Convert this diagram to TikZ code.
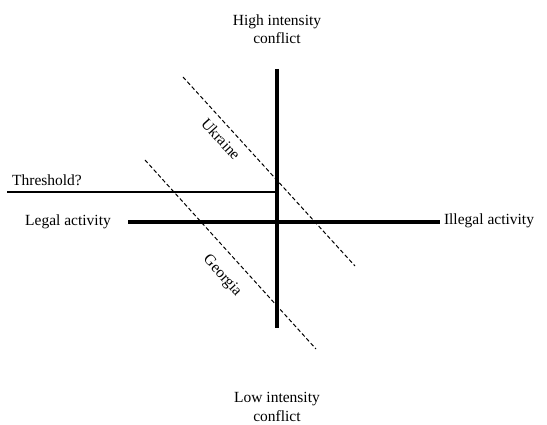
\documentclass[tikz,border=0pt]{standalone}
\usepackage{fontspec}
\setmainfont{Liberation Serif}
\usetikzlibrary{positioning}
\tikzset{
        axis line/.style={line width=3.2pt}, % the two main axes
        threshold line/.style={line width=1.5pt},
        case line/.style={dashed, line width=1pt, dash pattern=on 4pt off 2.5pt},
        label text/.style={font=\fontsize{15.5}{18.5}\selectfont, align=center, inner sep=0pt},
        case text/.style={label text, rotate=-47.8},
    }
\begin{document}
\begin{tikzpicture}[x=1pt, y=-1pt]
    \useasboundingbox (0,0) rectangle (547,425);
    % axes
    \coordinate (top) at (277,69);
    \coordinate (bottom) at (277,328);
    \coordinate (left) at (128,222);
    \coordinate (right) at (440,222);
    \coordinate (origin) at (277,222);
    \draw [axis line] (top) -- (bottom);
    \draw [axis line] (left) -- (right);
    % threshold
    \coordinate (thr start) at (7,192);
    \coordinate (thr end) at (277,192);
    \draw [threshold line] (thr start) -- (thr end);
    % cases
    \coordinate (ukr a) at (183,77);
    \coordinate (ukr b) at (355,266);
    \coordinate (geo a) at (145,160);
    \coordinate (geo b) at (316,349);
    \draw [case line] (ukr a) -- (ukr b);
    \draw [case line] (geo a) -- (geo b);
    % labels
    \node [label text] (high) at (277,29) {High intensity\\conflict};
    \node [label text] (low) at (277,407) {Low intensity\\conflict};
    \node [label text] (legal) at (68,222) {Legal activity};
    \node [label text] (illegal) at (489,221) {Illegal activity};
    \node [label text] (threshold) at (47,180) {Threshold?};
    \node [case text] (ukraine) at (221,139) {Ukraine};
    \node [case text] (georgia) at (222,276) {Georgia};
\end{tikzpicture}
\end{document}
